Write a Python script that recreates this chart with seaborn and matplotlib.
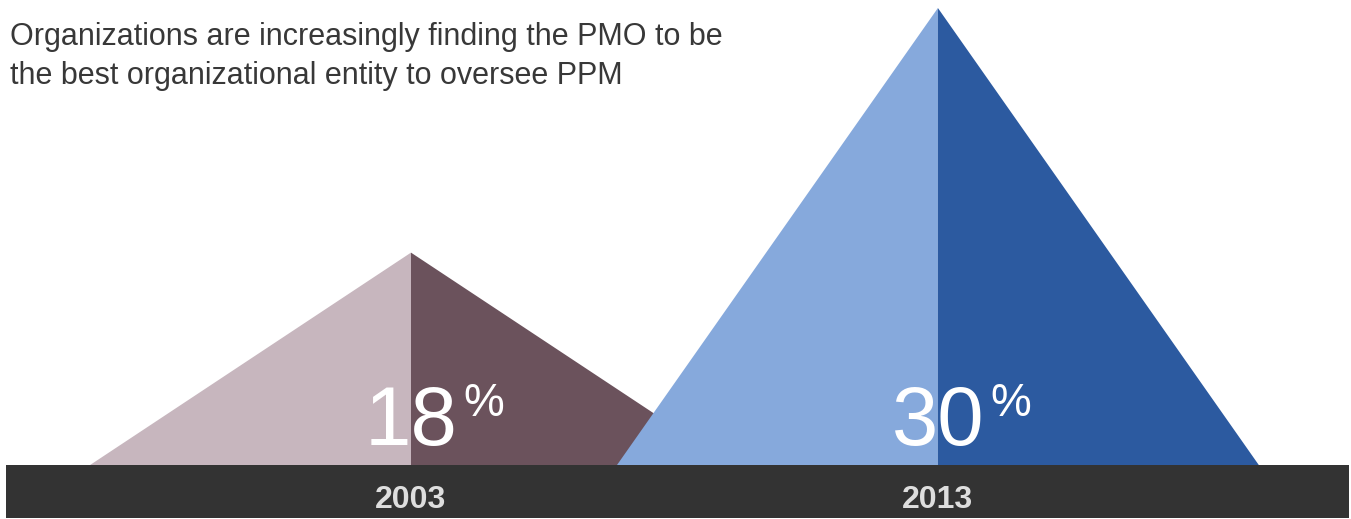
import numpy as np
import matplotlib
matplotlib.use("Agg")
import matplotlib.pyplot as plt
from matplotlib.patches import Rectangle
import seaborn as sns

# ---- data ----
years = ["2003", "2013"]
values = [18, 30]
light_colors = ["#c7b6be", "#86a9dc"]
dark_colors = ["#6b525c", "#2c5aa0"]
title = "Organizations are increasingly finding the PMO to be\nthe best organizational entity to oversee PPM"

sns.set_theme(style="white")
plt.rcParams["font.family"] = ["Liberation Sans", "DejaVu Sans"]

W, H = 1351, 519
fig = plt.figure(figsize=(W / 100, H / 100), dpi=100)
fig.patch.set_facecolor("white")

# dark base band
fig.add_artist(Rectangle((6 / W, 1 / H), (1349 - 6) / W, 53 / H,
                         transform=fig.transFigure, facecolor="#333333",
                         edgecolor="none", zorder=0))

ax = fig.add_axes([0, 54 / H, 1, 465 / H])
ax.set_facecolor("none")

# power scale: triangle height grows with value**1.5
ax.set_yscale("function", functions=(lambda y: np.sign(y) * np.abs(y) ** 1.5,
                                     lambda y: np.sign(y) * np.abs(y) ** (2 / 3)))

half = 0.609
for i, (v, lc, dc) in enumerate(zip(values, light_colors, dark_colors)):
    ax.fill([i - half, i, i], [0, v, 0], color=lc, linewidth=0, zorder=2 + i)
    ax.fill([i, i, i + half], [0, v, 0], color=dc, linewidth=0, zorder=2 + i)
    ax.annotate(f"{v}", xy=(i, 0), xytext=(0, 14.4), textcoords="offset points",
                ha="center", va="baseline", fontsize=60, color="white", zorder=10)
    ax.annotate("%", xy=(i, 0), xytext=(38, 60), textcoords="offset points",
                ha="left", va="top", fontsize=33, color="white", zorder=10)

ax.set_xlim(-0.780, 1.784)
ax.set_ylim(0, 30.35)
ax.set_xticks(range(len(years)))
ax.set_xticklabels(years, fontweight="bold")
ax.tick_params(axis="x", length=0, pad=14.5, labelsize=23, labelcolor="#dedede")
ax.set_yticks([])
sns.despine(ax=ax, left=True, bottom=True)

fig.text(10 / W, 1 - 22 / H, title, ha="left", va="top", fontsize=22,
         color="#383838", linespacing=1.37)

fig.savefig("out.png", dpi=100)
